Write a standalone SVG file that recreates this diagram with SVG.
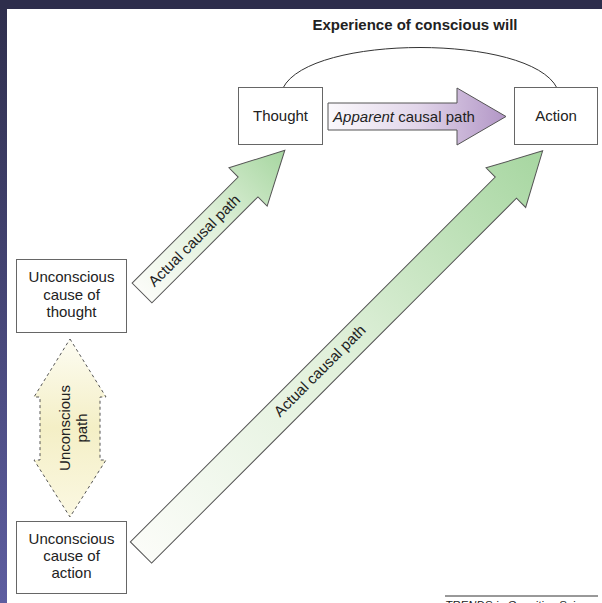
<svg xmlns="http://www.w3.org/2000/svg" width="602" height="603" viewBox="0 0 602 603">
<defs>
<linearGradient id="side" x1="0" y1="0" x2="0" y2="1"><stop offset="0" stop-color="#2e2e4c"/><stop offset="1" stop-color="#5d5da0"/></linearGradient>
<linearGradient id="green" x1="0" y1="0" x2="1" y2="0"><stop offset="0" stop-color="#fbfcf8"/><stop offset="0.5" stop-color="#e0f0da"/><stop offset="1" stop-color="#a6d6a0"/></linearGradient>
<linearGradient id="purple" x1="0" y1="0" x2="1" y2="0"><stop offset="0" stop-color="#fbf9fc"/><stop offset="0.5" stop-color="#e2d6ea"/><stop offset="1" stop-color="#b296c6"/></linearGradient>
<linearGradient id="yellow" x1="0" y1="0" x2="0" y2="1"><stop offset="0" stop-color="#fdfcf2"/><stop offset="0.5" stop-color="#f4efc6"/><stop offset="1" stop-color="#fbf8e2"/></linearGradient>
<style>
.box{fill:#fff;stroke:#666;stroke-width:1}
.lbl{font-family:"Liberation Sans",Arial,sans-serif;font-size:15px;fill:#222}
.arr{stroke:#555;stroke-width:1}
.title{font-family:"Liberation Sans",Arial,sans-serif;font-size:15px;font-weight:bold;fill:#222}
</style>
</defs>
<rect x="0" y="0" width="602" height="603" fill="#fff"/>
<rect x="0" y="0" width="7" height="603" fill="url(#side)"/>
<rect x="0" y="0" width="602" height="9" fill="#2e2e4c"/>

<g id="connectors">
<path id="will-arc" d="M283 88 C310 34 530 34 557 88" fill="none" stroke="#333" stroke-width="1"/>
<text class="title" x="415" y="30" text-anchor="middle">Experience of conscious will</text>

<g id="apparent-path">
<polygon class="arr" fill="url(#purple)" points="328,103 457,103 457,88 506,116.5 457,145 457,130 328,130"/>
<text class="lbl" x="404" y="121.5" text-anchor="middle"><tspan font-style="italic">Apparent</tspan> causal path</text>
</g>

<g id="actual-path-thought" transform="translate(142,293) rotate(-45)">
<polygon class="arr" fill="url(#green)" points="0,-14 150,-14 150,-27 202,0 150,27 150,14 0,14"/>
<text class="lbl" x="74" y="5" text-anchor="middle">Actual causal path</text>
</g>

<g id="actual-path-action" transform="translate(141,552.5) rotate(-45)">
<polygon class="arr" fill="url(#green)" points="0,-15 516,-15 516,-28 568,0 516,28 516,15 0,15"/>
<text class="lbl" x="255" y="3" text-anchor="middle">Actual causal path</text>
</g>

<g id="unconscious-path">
<polygon fill="url(#yellow)" stroke="#555" stroke-width="1" stroke-dasharray="3,3" points="70,339 106,397 100,397 100,460 106,460 70,517 34,460 40,460 40,397 34,397"/>
<text class="lbl" transform="translate(70,428) rotate(-90)" text-anchor="middle"><tspan x="0" y="0">Unconscious</tspan><tspan x="0" y="17">path</tspan></text>
</g>
</g>

<g id="thought">
<rect class="box" x="238.5" y="87.5" width="84" height="57"/>
<text class="lbl" x="280.5" y="121" text-anchor="middle">Thought</text>
</g>

<g id="action">
<rect class="box" x="514.5" y="87.5" width="83" height="57"/>
<text class="lbl" x="556" y="121" text-anchor="middle">Action</text>
</g>

<g id="unconscious-thought">
<rect class="box" x="16.5" y="259.5" width="110" height="73"/>
<text class="lbl" text-anchor="middle"><tspan x="71.5" y="282">Unconscious</tspan><tspan x="71.5" y="299.5">cause of</tspan><tspan x="71.5" y="317">thought</tspan></text>
</g>

<g id="unconscious-action">
<rect class="box" x="16.5" y="521.5" width="110" height="72"/>
<text class="lbl" text-anchor="middle"><tspan x="71.5" y="544">Unconscious</tspan><tspan x="71.5" y="561">cause of</tspan><tspan x="71.5" y="578">action</tspan></text>
</g>

<g id="credit">
<line x1="445" y1="596" x2="598" y2="596" stroke="#333" stroke-width="1"/>
<text x="445" y="609" font-family="'Liberation Sans',Arial,sans-serif" font-size="11.5" font-style="italic" fill="#222">TRENDS in Cognitive Sciences</text>
</g>
</svg>
